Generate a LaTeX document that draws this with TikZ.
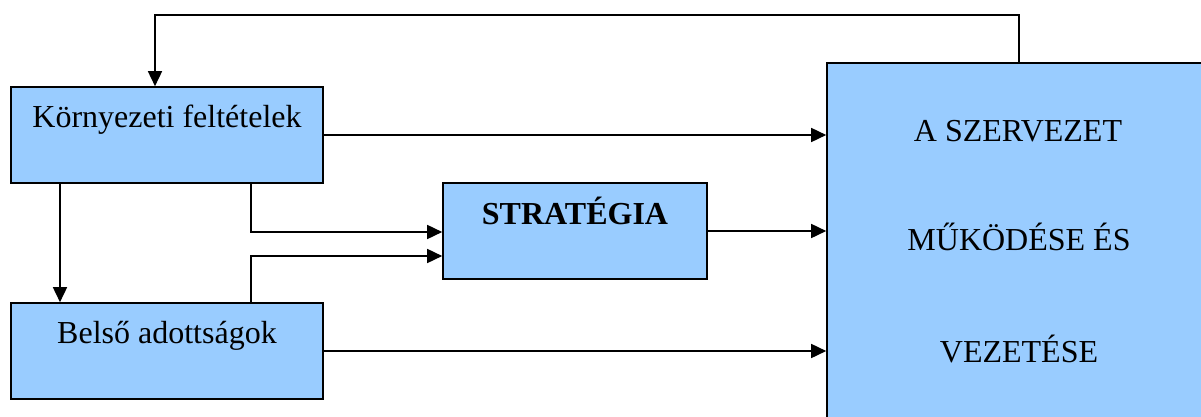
\documentclass[tikz,border=0pt]{standalone}
\usepackage{fontspec}
\setmainfont{Liberation Serif}
\usetikzlibrary{arrows.meta}
\definecolor{boxblue}{HTML}{99CCFF}
\begin{document}
\begin{tikzpicture}[x=1pt,y=-1pt,
  box/.style={draw=black,fill=boxblue,line width=1.6pt,rectangle,inner sep=0pt},
  lbl/.style={anchor=base,inner sep=0pt,font=\fontsize{32}{38}\selectfont},
  conn/.style={line width=1.6pt,-{Triangle[length=15pt,width=14pt]}},
  plain/.style={line width=1.6pt}]
\clip (0,0) rectangle (1201,417);
\fill[white] (0,0) rectangle (1201,417);
% boxes
\node[box,minimum width=312pt,minimum height=96pt] (env) at (167,135) {};
\node[box,minimum width=312pt,minimum height=96pt] (int) at (167,351) {};
\node[box,minimum width=264pt,minimum height=96pt] (str) at (575,231) {};
\node[box,minimum width=384pt,minimum height=380pt] (org) at (1019,253) {};
% texts
\node[lbl] at (167,128) {Környezeti feltételek};
\node[lbl] at (167,343) {Belső adottságok};
\node[lbl,font=\fontsize{32}{38}\selectfont\bfseries] at (575,224) {STRATÉGIA};
\node[lbl] at (1018,142) {A SZERVEZET};
\node[lbl] at (1019,250) {MŰKÖDÉSE ÉS};
\node[lbl] at (1019,362) {VEZETÉSE};
% coordinates
\coordinate (fbtop) at (1019,15);
\coordinate (fbleft) at (155,15);
\coordinate (e1) at (60,0);
\coordinate (e2) at (251,0);
\coordinate (s1) at (0,232);
\coordinate (s2) at (0,256);
% connectors
\draw[conn] (env.east) -- (env.east -| org.west);
\draw[conn] (str.east) -- (str.east -| org.west);
\draw[conn] (int.east) -- (int.east -| org.west);
\draw[conn] (env.south -| e1) -- (int.north -| e1);
\draw[conn] (env.south -| e2) |- (str.west |- s1);
\draw[conn] (int.north -| e2) |- (str.west |- s2);
\draw[conn] (org.north) -- (fbtop) -- (fbleft) -- (env.north -| fbleft);
\end{tikzpicture}
\end{document}
